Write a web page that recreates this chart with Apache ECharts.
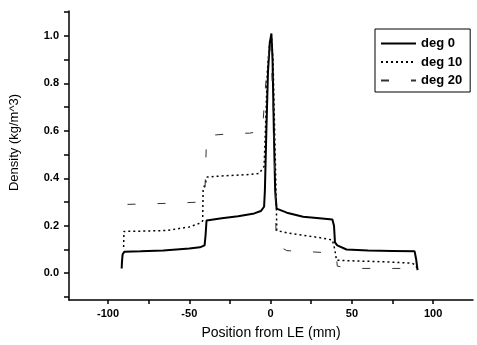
<!DOCTYPE html>
<html>
<head>
<meta charset="utf-8">
<script src="https://cdn.jsdelivr.net/npm/echarts@6/dist/echarts.min.js"></script>
<style>
  html, body { margin: 0; padding: 0; background: #fff; }
  #chart { width: 477px; height: 345px; }
</style>
</head>
<body>
<div id="chart"></div>
<script>
// values: [position mm, density]
var deg0 = [
  [-91.6, 0.02], [-91.4, 0.05], [-91, 0.08], [-90, 0.09], [-80, 0.092], [-66, 0.096],
  [-50, 0.104], [-43.5, 0.109], [-40.6, 0.117], [-40, 0.16], [-39.4, 0.222], [-30, 0.232],
  [-20, 0.24], [-10, 0.252], [-6, 0.262], [-4, 0.28], [-3.5, 0.35], [-2.6, 0.6],
  [-1.6, 0.85], [-0.5, 0.97], [0.5, 1.01], [1.2, 0.9], [2, 0.6], [2.8, 0.35],
  [3.7, 0.272], [10, 0.255], [20, 0.238], [30, 0.232], [38, 0.226], [39, 0.2],
  [39.6, 0.13], [41, 0.117], [46.7, 0.1], [60, 0.096], [75, 0.094], [88.6, 0.092],
  [89.5, 0.06], [90.4, 0.013]
];
var deg10 = [
  [-90.4, 0.11], [-90.2, 0.176], [-80, 0.177], [-64, 0.18], [-50, 0.195], [-43.7, 0.21],
  [-41.8, 0.22], [-41.5, 0.35], [-39, 0.405], [-30, 0.41], [-15, 0.415], [-7, 0.42],
  [-4, 0.45], [-3.2, 0.6], [-2, 0.85], [-0.5, 0.98], [0.5, 1.0], [1.5, 0.9],
  [2.5, 0.6], [3.5, 0.3], [3.8, 0.18], [10, 0.17], [20, 0.16], [30, 0.15],
  [38, 0.14], [39.5, 0.1], [40.5, 0.055], [50, 0.052], [70, 0.048], [87, 0.042],
  [89, 0.035], [90.2, 0.02]
];
var deg20 = [
  [-88, 0.29], [-60, 0.295], [-42, 0.3], [-40.5, 0.32], [-39.5, 0.55], [-39, 0.58],
  [-20, 0.59], [-13, 0.59], [-5, 0.6], [-3, 0.8], [0, 1.0], [2, 0.6],
  [3.5, 0.12], [10, 0.095], [20, 0.092], [38, 0.085], [40.5, 0.075], [41, 0.03],
  [47, 0.022], [56, 0.02], [73, 0.02], [82, 0.02], [88, 0.02]
];
var seriesNames = ['deg 0', 'deg 10', 'deg 20'];
var xLabels = [-100, -50, 0, 50, 100];
var xTicks = [-100, -75, -50, -25, 0, 25, 50, 75, 100];
var yLabels = [0, 0.2, 0.4, 0.6, 0.8, 1.0];
var yTicks = [-0.1, 0, 0.1, 0.2, 0.3, 0.4, 0.5, 0.6, 0.7, 0.8, 0.9, 1.0, 1.1];

var font = 'Liberation Sans, Arial, sans-serif';
var xMin = -124, xMax = 124.5, yMin = -0.113, yMax = 1.105;

var chart = echarts.init(document.getElementById('chart'), null, { renderer: 'canvas' });

chart.setOption({
  animation: false,
  backgroundColor: '#fff',
  grid: { left: 69, right: 4, top: 11, bottom: 43 },
  legend: {
    show: true,
    orient: 'vertical',
    left: 375,
    top: 29,
    data: seriesNames,
    itemWidth: 35,
    itemHeight: 12,
    itemGap: 5.5,
    padding: [8, 8, 5, 5],
    borderColor: '#000',
    borderWidth: 1,
    itemStyle: { opacity: 0 },
    textStyle: { fontFamily: font, fontSize: 13, fontWeight: 'bold', color: '#000' }
  },
  xAxis: {
    type: 'value',
    min: xMin, max: xMax,
    name: 'Position from LE (mm)',
    nameLocation: 'middle',
    nameGap: 26,
    nameTextStyle: { fontFamily: font, fontSize: 14, color: '#000' },
    axisLine: { show: true, onZero: false, lineStyle: { color: '#000', width: 1.5 } },
    axisTick: { show: true, inside: false, length: 4, customValues: xTicks, lineStyle: { color: '#000', width: 1.5 } },
    axisLabel: { customValues: xLabels, margin: 8, fontFamily: font, fontSize: 11, fontWeight: 'bold', color: '#000' },
    splitLine: { show: false }
  },
  yAxis: {
    type: 'value',
    min: yMin, max: yMax,
    name: 'Density (kg/m^3)',
    nameLocation: 'middle',
    nameGap: 48,
    nameTextStyle: { fontFamily: font, fontSize: 13, color: '#000', padding: [0, 0, 0, 26] },
    axisLine: { show: true, onZero: false, lineStyle: { color: '#000', width: 1.5 } },
    axisTick: { show: true, inside: false, length: 5, customValues: yTicks, lineStyle: { color: '#000', width: 1.5 } },
    axisLabel: {
      customValues: yLabels, margin: 10, fontFamily: font, fontSize: 11, fontWeight: 'bold', color: '#000',
      formatter: function (v) { return v.toFixed(1); }
    },
    splitLine: { show: false }
  },
  series: [{
    name: seriesNames[0],
    type: 'line',
    data: deg0,
    symbol: 'none',
    color: '#000',
    lineStyle: { color: '#000', width: 2 }
  }, {
    name: seriesNames[1],
    type: 'line',
    data: deg10,
    symbol: 'none',
    color: '#000',
    lineStyle: { color: '#000', width: 1.5, type: [2, 3] }
  }, {
    name: seriesNames[2],
    type: 'line',
    data: deg20,
    symbol: 'none',
    color: '#333',
    lineStyle: { color: '#333', width: 1, type: [8, 22] }
  }]
});
</script>
</body>
</html>
